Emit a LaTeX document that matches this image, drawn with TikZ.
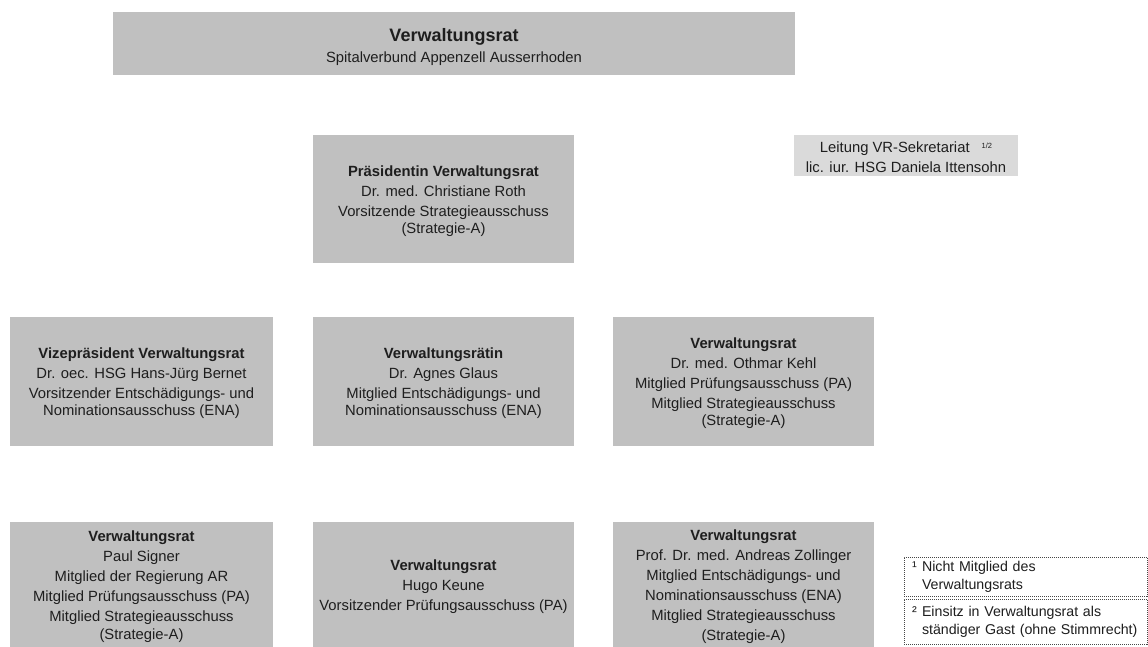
\documentclass[tikz,border=0pt]{standalone}
\usepackage{fontspec}
\setmainfont{Liberation Sans}
\definecolor{boxgray}{RGB}{192,192,192}
\definecolor{lightbox}{RGB}{218,218,218}
\definecolor{txt}{RGB}{30,30,30}
\definecolor{dotgray}{RGB}{70,70,70}
\newcommand{\orgbodyfont}{\fontsize{14.8}{20}\selectfont}
\newcommand{\orgnotefont}{\fontsize{14.2}{18}\selectfont}
\begin{document}
\begin{tikzpicture}[x=1pt,y=-1pt,
  box/.style={fill=boxgray, inner sep=0pt, align=center, text=txt, font=\orgbodyfont},
  lbox/.style={box, fill=lightbox},
  notebox/.style={draw=dotgray, dash pattern=on 1pt off 1pt, line width=0.8pt,
    inner xsep=8pt, inner ysep=0pt, text width=227pt, align=left, text=txt, font=\orgnotefont}]
\useasboundingbox (0,0) rectangle (1148,646);
\fill[white] (0,0) rectangle (1148,646);
% top
\node[box, minimum width=682pt, minimum height=63pt] (top) at (454,43.5)
  {\rule{0pt}{20pt}{\fontsize{18}{22}\selectfont\bfseries Verwaltungsrat}\\[1pt]Spitalverbund Appenzell Ausserrhoden};
% president
\node[box, minimum width=261pt, minimum height=128pt] (praes) at (443.5,199)
  {\rule{0pt}{16pt}\textbf{Präsidentin Verwaltungsrat}\\Dr. med. Christiane Roth\\Vorsitzende Strategieausschuss\\[-3pt](Strategie-A)};
% secretariat
\node[lbox, minimum width=224pt, minimum height=41pt] (sek) at (906,155.5)
  {\rule{0pt}{14pt}Leitung VR-Sekretariat\hspace{12pt}\raisebox{4pt}{\fontsize{7.5}{8}\selectfont 1/2}\\lic. iur. HSG Daniela Ittensohn};
% row 2
\node[box, minimum width=263pt, minimum height=129pt] (vize) at (141.5,381.5)
  {\rule{0pt}{14pt}\textbf{Vizepräsident Verwaltungsrat}\\Dr. oec. HSG Hans-Jürg Bernet\\Vorsitzender Entschädigungs- und\\[-3pt]Nominationsausschuss (ENA)};
\node[box, minimum width=261pt, minimum height=129pt] (glaus) at (443.5,381.5)
  {\rule{0pt}{14pt}\textbf{Verwaltungsrätin}\\Dr. Agnes Glaus\\Mitglied Entschädigungs- und\\[-3pt]Nominationsausschuss (ENA)};
\node[box, minimum width=261pt, minimum height=129pt] (kehl) at (743.5,381.5)
  {\rule{0pt}{14pt}\textbf{Verwaltungsrat}\\Dr. med. Othmar Kehl\\Mitglied Prüfungsausschuss (PA)\\Mitglied Strategieausschuss\\[-3pt](Strategie-A)};
% row 3
\node[box, minimum width=263pt, minimum height=130pt] (signer) at (141.5,587)
  {\textbf{Verwaltungsrat}\\Paul Signer\\Mitglied der Regierung AR\\Mitglied Prüfungsausschuss (PA)\\Mitglied Strategieausschuss\\[-2pt](Strategie-A)};
\node[box, minimum width=261pt, minimum height=130pt] (keune) at (443.5,587)
  {\textbf{Verwaltungsrat}\\Hugo Keune\\Vorsitzender Prüfungsausschuss (PA)};
\node[box, minimum width=261pt, minimum height=130pt] (zoll) at (743.5,587)
  {\textbf{Verwaltungsrat}\\Prof. Dr. med. Andreas Zollinger\\Mitglied Entschädigungs- und\\Nominationsausschuss (ENA)\\Mitglied Strategieausschuss\\(Strategie-A)};
% footnotes
\node[notebox, minimum height=39pt] (fn1) at (1025.5,576.5)
  {\makebox[10pt][l]{¹}Nicht Mitglied des\\\hspace*{10pt}Verwaltungsrats};
\node[notebox, minimum height=45pt] (fn2) at (1025.5,621.5)
  {\makebox[10pt][l]{²}Einsitz in Verwaltungsrat als\\\hspace*{10pt}ständiger Gast (ohne Stimmrecht)};
\end{tikzpicture}
\end{document}
